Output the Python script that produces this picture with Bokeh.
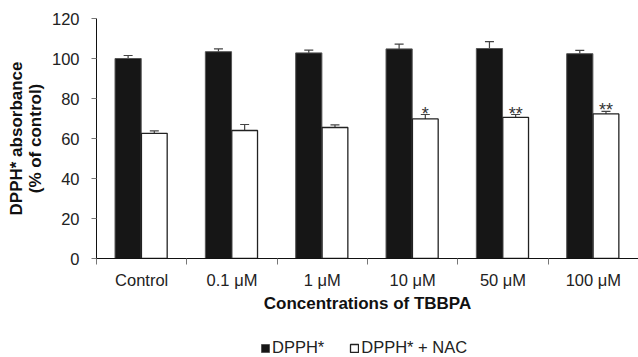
from bokeh.plotting import figure
from bokeh.layouts import column
from bokeh.models import (ColumnDataSource, Whisker, TeeHead, FixedTicker, Legend,
                          LegendItem, Range1d)
from bokeh.embed import file_html
from bokeh.resources import INLINE
from bokeh.core.properties import value

# ---- data ----
categories = ["Control", "0.1 μM", "1 μM", "10 μM", "50 μM", "100 μM"]
dpph = [100.0, 103.4, 102.8, 104.8, 105.0, 102.4]
dpph_err = [1.5, 1.4, 1.4, 2.4, 3.4, 1.7]
dpph_nac = [62.6, 64.0, 65.5, 69.8, 70.6, 72.3]
dpph_nac_err = [1.2, 3.0, 1.3, 2.2, 1.4, 1.3]
signif = ["", "", "", "*", "**", "**"]
series_names = ["DPPH*", "DPPH* + NAC"]
y_ticks = [0, 20, 40, 60, 80, 100, 120]

FONT = "Liberation Sans"
n = len(categories)
idx = list(range(n))
x_black = [i + 0.35 for i in idx]
x_white = [i + 0.64 for i in idx]

BLACK_STYLE = dict(fill_color="#161616", line_color="#555555", line_width=1)
WHITE_STYLE = dict(fill_color="white", line_color="#222222", line_width=1.3)

src_b = ColumnDataSource(dict(x=x_black, top=dpph,
                              upper=[v + e for v, e in zip(dpph, dpph_err)]))
src_w = ColumnDataSource(dict(x=x_white, top=dpph_nac,
                              upper=[v + e for v, e in zip(dpph_nac, dpph_nac_err)],
                              lower=[v - e for v, e in zip(dpph_nac, dpph_nac_err)],
                              star=signif))

p = figure(width=638, height=336, output_backend="svg", toolbar_location=None,
           x_range=Range1d(0, n), y_range=Range1d(0, 120),
           min_border_left=96, min_border_right=0, min_border_top=18,
           min_border_bottom=78)
p.outline_line_color = None
p.grid.grid_line_color = None
p.background_fill_color = "white"

rb = p.vbar(x="x", top="top", width=0.29, bottom=0, source=src_b, **BLACK_STYLE)
rw = p.vbar(x="x", top="top", width=0.285, bottom=0, source=src_w, **WHITE_STYLE)

wb = Whisker(base="x", upper="upper", lower="top", source=src_b,
             line_color="#444444", line_width=1.2,
             upper_head=TeeHead(size=9, line_color="#444444", line_width=1.2),
             lower_head=None)
ww = Whisker(base="x", upper="upper", lower="lower", source=src_w,
             line_color="#444444", line_width=1.2,
             upper_head=TeeHead(size=9, line_color="#444444", line_width=1.2),
             lower_head=TeeHead(size=9, line_color="#444444", line_width=1.2))
p.add_layout(wb)
p.add_layout(ww)

p.text(x="x", y="upper", text="star", source=src_w, text_align="center",
       text_baseline="alphabetic", y_offset=-1, text_font=value(FONT),
       text_font_size="18px", text_color="#333333")

# y axis
p.yaxis.ticker = FixedTicker(ticks=y_ticks)
p.yaxis.axis_label = "DPPH* absorbance\n(% of control)"
p.yaxis.axis_label_text_font = FONT
p.yaxis.axis_label_text_font_style = "bold"
p.yaxis.axis_label_text_font_size = "17px"
p.yaxis.axis_label_text_color = "#111111"
p.yaxis.axis_label_text_line_height = 1.0
p.yaxis.axis_label_standoff = 4
p.yaxis.major_label_text_font = FONT
p.yaxis.major_label_text_font_size = "16.5px"
p.yaxis.major_label_text_color = "#222222"
p.yaxis.major_label_standoff = 12
p.yaxis.major_tick_out = 5
p.yaxis.major_tick_in = 0
p.yaxis.minor_tick_line_color = None
p.yaxis.axis_line_color = "#111111"
p.yaxis.major_tick_line_color = "#777777"

# x axis: labels at category centres, ticks at boundaries
centers = [i + 0.5 for i in idx]
p.xaxis.ticker = FixedTicker(ticks=centers, minor_ticks=list(range(n + 1)))
p.xaxis.major_label_overrides = {c: lab for c, lab in zip(centers, categories)}
p.xaxis.major_tick_line_color = None
p.xaxis.major_tick_out = 0
p.xaxis.major_tick_in = 0
p.xaxis.minor_tick_out = 6
p.xaxis.minor_tick_in = 0
p.xaxis.minor_tick_line_color = "#777777"
p.xaxis.axis_line_color = "#111111"
p.xaxis.major_label_standoff = 6
p.xaxis.major_label_text_font = FONT
p.xaxis.major_label_text_font_size = "16.5px"
p.xaxis.major_label_text_color = "#222222"
p.xaxis.axis_label = "Concentrations of TBBPA"
p.xaxis.axis_label_text_font = FONT
p.xaxis.axis_label_text_font_style = "bold"
p.xaxis.axis_label_text_font_size = "17px"
p.xaxis.axis_label_text_color = "#111111"
p.xaxis.axis_label_standoff = 2

# legend strip below the plot (its frame is aligned with the main frame);
# swatch renderers share the data but are hidden, only the legend shows them
pl = figure(width=638, height=21, output_backend="svg", toolbar_location=None,
            x_range=Range1d(0, n), y_range=Range1d(-2000, -1999),
            x_axis_location=None, y_axis_location=None, min_border=0)
pl.outline_line_color = None
pl.grid.grid_line_color = None
lb = pl.vbar(x="x", top="top", width=0.29, bottom=0, source=src_b, **BLACK_STYLE)
lw = pl.vbar(x="x", top="top", width=0.285, bottom=0, source=src_w, **WHITE_STYLE)
lb.visible = False
lw.visible = False
legend = Legend(items=[LegendItem(label=series_names[0], renderers=[lb]),
                       LegendItem(label=series_names[1], renderers=[lw])],
                orientation="horizontal", location=(164, 0),
                border_line_color=None, background_fill_alpha=0,
                inactive_fill_alpha=0,
                glyph_width=10, glyph_height=10, label_standoff=2, spacing=25,
                label_text_font=FONT, label_text_font_size="16.5px",
                label_text_color="#222222", padding=0, margin=0)
pl.add_layout(legend)

layout = column(p, pl, spacing=0)
open("out.html", "w").write(file_html(layout, INLINE))
